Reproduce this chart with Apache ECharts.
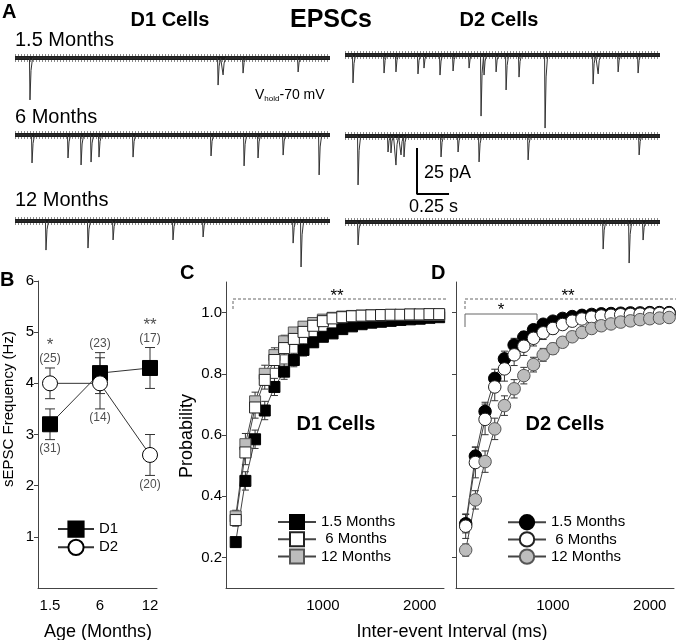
<!DOCTYPE html>
<html><head><meta charset="utf-8">
<script src="https://cdn.jsdelivr.net/npm/echarts@6/dist/echarts.min.js"></script>
<style>html,body{margin:0;padding:0;background:#fff}#c{width:676px;height:640px}</style>
</head><body><div id="c"></div>
<script>
const FONT = '"Liberation Sans", Arial, Helvetica, sans-serif';

// ---------- Panel A: sEPSC traces. Each event: [time (s), peak amplitude (pA)]
const traceDuration = 2.46;
const evD1_1p5 = [[0.117,-22.8],[1.586,-14.7],[1.625,-9.2],[1.781,-8.2],[2.211,-7.6]];
const evD2_1p5 = [[0.0625,-15.2],[0.305,-9.8],[0.398,-9.2],[0.570,-10.3],[0.617,-7.1],[0.742,-10.9],[0.844,-8.7],[0.969,-7.1],[1.0625,-33.2],[1.086,-10.9],[1.180,-9.2],[1.258,-19.0],[1.359,-12.0],[1.5625,-39.7],[1.9375,-15.8],[1.977,-10.3],[2.133,-9.2],[2.289,-9.8]];
const evD1_6 = [[0.133,-15.2],[0.414,-12.5],[0.516,-16.3],[0.594,-14.7],[0.656,-12.0],[0.922,-12.0],[1.531,-11.4],[1.789,-16.8],[1.898,-12.5],[2.094,-10.9],[2.375,-21.7]];
const evD2_6 = [[0.102,-26.6],[0.336,-8.7],[0.359,-9.2],[0.398,-15.8],[0.4375,-10.3],[0.461,-11.4],[0.75,-11.4],[0.883,-8.7],[1.047,-14.1],[1.430,-13.0],[2.297,-10.3]];
const evD1_12 = [[0.242,-15.8],[0.570,-14.7],[0.766,-10.3],[1.234,-10.3],[1.469,-8.7],[2.172,-12.0],[2.234,-25.0]];
const evD2_12 = [[0.102,-12.5],[2.016,-14.7],[2.219,-22.3],[2.328,-9.8]];
const scaleBarTime = 0.25;   // s
const scaleBarAmp = 25;      // pA

// ---------- Panel B
const ageLabels = ['1.5','6','12'];
const ageIdx = [1,2,3];
const freqD1 = [3.2,4.2,4.3];
const semD1 = [0.3,0.4,0.4];
const freqD2 = [4.0,4.0,2.6];
const semD2 = [0.3,0.5,0.4];
const nD1 = [31,23,17];
const nD2 = [25,14,20];
const sigB = ['*','','**'];

// ---------- Panels C, D: cumulative probability of inter-event interval
const intervals = [100,200,300,400,500,600,700,800,900,1000,1100,1200,1300,1400,1500,1600,1700,1800,1900,2000,2100,2200];
const cD1_1p5 = [0.25,0.45,0.586,0.68,0.757,0.807,0.845,0.878,0.903,0.921,0.932,0.946,0.955,0.962,0.967,0.970,0.973,0.976,0.978,0.980,0.983,0.985];
const cD1_6   = [0.322,0.543,0.69,0.78,0.845,0.884,0.914,0.937,0.957,0.972,0.981,0.985,0.988,0.990,0.991,0.992,0.993,0.993,0.994,0.994,0.995,0.995];
const cD1_12  = [0.334,0.57,0.71,0.80,0.861,0.906,0.935,0.954,0.966,0.977,0.983,0.987,0.989,0.990,0.991,0.991,0.992,0.992,0.993,0.993,0.993,0.993];
const eD1_1p5 = [0.015,0.03,0.03,0.03,0.028,0.025,0.022,0.02,0.016,0.013,0.011,0.009,0.008,0.007,0.006,0.005,0.005,0.004,0.004,0.004,0.003,0.003];
const eD1_6   = [0.02,0.04,0.035,0.03,0.027,0.022,0.018,0.015,0.012,0.01,0.008,0.006,0.005,0.004,0.004,0.003,0.003,0.003,0.002,0.002,0.002,0.002];
const eD1_12  = [0.02,0.035,0.03,0.028,0.024,0.02,0.016,0.013,0.01,0.008,0.006,0.005,0.004,0.004,0.003,0.003,0.003,0.002,0.002,0.002,0.002,0.002];
const dD2_1p5 = [0.31,0.531,0.677,0.785,0.849,0.894,0.92,0.944,0.962,0.972,0.981,0.987,0.991,0.994,0.996,0.997,0.998,0.999,0.999,1.0,1.0,1.0];
const dD2_6   = [0.302,0.51,0.651,0.757,0.816,0.862,0.89,0.916,0.934,0.948,0.961,0.972,0.979,0.985,0.989,0.991,0.993,0.994,0.995,0.996,0.997,0.997];
const dD2_12  = [0.224,0.388,0.513,0.62,0.696,0.751,0.794,0.83,0.862,0.882,0.903,0.921,0.935,0.948,0.957,0.963,0.969,0.973,0.977,0.980,0.982,0.984];
const eD2_1p5 = [0.03,0.03,0.03,0.03,0.025,0.022,0.018,0.015,0.012,0.01,0.008,0.006,0.005,0.004,0.003,0.003,0.002,0.002,0.002,0.002,0.002,0.002];
const eD2_6   = [0.04,0.05,0.05,0.045,0.04,0.035,0.03,0.025,0.022,0.018,0.015,0.012,0.01,0.008,0.007,0.006,0.005,0.004,0.004,0.003,0.003,0.003];
const eD2_12  = [0.02,0.03,0.035,0.035,0.032,0.03,0.027,0.024,0.021,0.018,0.016,0.014,0.012,0.011,0.01,0.009,0.008,0.007,0.006,0.006,0.005,0.005];

// ---------- helpers
const AX = '#444';
const GRAY = '#bdbdbd';
function traceData(events){
  const pts = [[0,0]];
  events.forEach(([t,a]) => { pts.push([t-0.004,0],[t,a],[t+0.008,a*0.3],[t+0.02,0]); });
  pts.push([traceDuration,0]);
  return pts;
}
function errRender(capHalf){
  return function(params, api){
    const x = api.value(0), y = api.value(1), e = api.value(2);
    const t = api.coord([x, y+e]), b = api.coord([x, y-e]);
    const st = {stroke:'#333', lineWidth:1};
    return {type:'group', children:[
      {type:'line', shape:{x1:t[0],y1:t[1],x2:b[0],y2:b[1]}, style:st},
      {type:'line', shape:{x1:t[0]-capHalf,y1:t[1],x2:t[0]+capHalf,y2:t[1]}, style:st},
      {type:'line', shape:{x1:b[0]-capHalf,y1:b[1],x2:b[0]+capHalf,y2:b[1]}, style:st}
    ]};
  };
}
function zip(xs, ys, es){ return xs.map((x,i)=> es ? [x, ys[i], es[i]] : [x, ys[i]]); }

const grids = [], xAxes = [], yAxes = [], series = [];
// Panel A trace grids
const traceLayout = [
  {ev:evD1_1p5, left:15,  base:58},
  {ev:evD2_1p5, left:345, base:55},
  {ev:evD1_6,   left:15,  base:135},
  {ev:evD2_6,   left:345, base:136},
  {ev:evD1_12,  left:15,  base:221},
  {ev:evD2_12,  left:345, base:222}
];
traceLayout.forEach((tr, i) => {
  grids.push({left:tr.left, top:tr.base-9.2, width:315, height:101.2});
  xAxes.push({type:'value', gridIndex:i, min:0, max:traceDuration, show:false});
  yAxes.push({type:'value', gridIndex:i, min:-50, max:5, show:false});
  series.push({type:'line', xAxisIndex:i, yAxisIndex:i, data:[[0,0],[traceDuration,0]], symbol:'none', silent:true,
    lineStyle:{color:'#8a8a8a', width:8, type:[1,2]}});
  series.push({type:'line', xAxisIndex:i, yAxisIndex:i, data:[[0,0],[traceDuration,0]], symbol:'none', silent:true,
    lineStyle:{color:'#1c1c1c', width:4}});
  series.push({type:'line', xAxisIndex:i, yAxisIndex:i, data:traceData(tr.ev), symbol:'none', silent:true,
    lineStyle:{color:'#333', width:1}});
});
// scale bar in the D2 6-month trace coordinates
const sb0 = 0.5625, sbTop = -6.5;
series.push({type:'line', xAxisIndex:3, yAxisIndex:3, symbol:'none', silent:true,
  data:[[sb0, sbTop],[sb0, sbTop-scaleBarAmp],[sb0+scaleBarTime, sbTop-scaleBarAmp]],
  lineStyle:{color:'#000', width:2}});

// Panel B grid (index 6)
const lblStyle = {fontFamily:FONT, fontSize:15, color:'#000'};
grids.push({left:38, top:281, width:119, height:307});
xAxes.push({type:'value', gridIndex:6, min:0.76, max:3.14,
  axisLine:{lineStyle:{color:AX}}, axisTick:{show:false}, splitLine:{show:false},
  axisLabel:{customValues:ageIdx, formatter:v=>ageLabels[ageIdx.indexOf(v)], margin:10, ...lblStyle}});
yAxes.push({type:'value', gridIndex:6, min:0, max:6, interval:1,
  axisLine:{show:true, lineStyle:{color:AX}}, splitLine:{show:false},
  axisTick:{show:true, length:4, customValues:[1,2,3,4,5,6], lineStyle:{color:AX}},
  axisLabel:{customValues:[1,2,3,4,5,6], margin:4, ...lblStyle}});
series.push({type:'custom', xAxisIndex:6, yAxisIndex:6, renderItem:errRender(5), data:zip(ageIdx,freqD1,semD1), encode:{x:0,y:1}, silent:true, z:1});
series.push({type:'custom', xAxisIndex:6, yAxisIndex:6, renderItem:errRender(5), data:zip(ageIdx,freqD2,semD2), encode:{x:0,y:1}, silent:true, z:1});
series.push({name:'D1', type:'line', xAxisIndex:6, yAxisIndex:6, data:zip(ageIdx,freqD1), symbol:'rect', symbolSize:15,
  itemStyle:{color:'#000', borderColor:'#000', borderWidth:1}, lineStyle:{color:'#333', width:1}});
series.push({name:'D2', type:'line', xAxisIndex:6, yAxisIndex:6, data:zip(ageIdx,freqD2), symbol:'circle', symbolSize:15,
  itemStyle:{color:'#fff', borderColor:'#000', borderWidth:1}, lineStyle:{color:'#333', width:1}});
// n labels and significance
function nLabelData(freq, sem, ns, pos){
  return ageIdx.map((x,i)=>{
    const up = pos[i]==='top';
    const txt = (up && sigB[i] ? '{s|'+sigB[i]+'}\n' : '') + '{n|(' + ns[i] + ')}';
    return {value:[x, up ? freq[i]+sem[i] : freq[i]-sem[i]], label:{position:pos[i], formatter:txt}};
  });
}
const nRich = {s:{fontFamily:FONT, fontSize:17, lineHeight:13, color:'#222'}, n:{fontFamily:FONT, fontSize:12, lineHeight:14, color:'#222'}};
series.push({type:'scatter', xAxisIndex:6, yAxisIndex:6, symbolSize:0, silent:true,
  data:nLabelData(freqD1, semD1, nD1, ['bottom','top','top']),
  label:{show:true, distance:2, rich:nRich}});
series.push({type:'scatter', xAxisIndex:6, yAxisIndex:6, symbolSize:0, silent:true,
  data:nLabelData(freqD2, semD2, nD2, ['top','bottom','bottom']),
  label:{show:true, distance:2, rich:nRich}});

// Panels C (7) and D (8)
const probTicks = [0.2,0.4,0.6,0.8,1.0];
[[226,7,true],[456,8,false]].forEach(([left, gi, showLbl]) => {
  grids.push({left:left, top:282, width:218, height:306});
  xAxes.push({type:'value', gridIndex:gi, min:0, max:2250,
    axisLine:{lineStyle:{color:AX}}, axisTick:{show:false}, splitLine:{show:false},
    axisLabel:{customValues:[1000,2000], margin:10, formatter:v=>String(v), ...lblStyle}});
  yAxes.push({type:'value', gridIndex:gi, min:0.1, max:1.1,
    axisLine:{show:true, lineStyle:{color:AX}}, splitLine:{show:false},
    axisTick:{show:true, length:4, customValues:probTicks, lineStyle:{color:AX}},
    axisLabel:{show:showLbl, customValues:probTicks, margin:4, formatter:v=>v.toFixed(1), ...lblStyle}});
});
function cdfSeries(name, gi, ys, es, symbol, size, fill, border){
  series.push({type:'custom', xAxisIndex:gi, yAxisIndex:gi, renderItem:errRender(3.5), data:zip(intervals, ys, es), encode:{x:0,y:1}, silent:true});
  series.push({name:name, type:'line', xAxisIndex:gi, yAxisIndex:gi, data:zip(intervals, ys), symbol:symbol, symbolSize:size,
    itemStyle:{color:fill, borderColor:border, borderWidth:1}, lineStyle:{color:'#444', width:1}});
}
cdfSeries('C|1.5 Months', 7, cD1_1p5, eD1_1p5, 'rect', 11, '#000', '#000');
cdfSeries('C|12 Months', 7, cD1_12, eD1_12, 'rect', 11, GRAY, '#555');
cdfSeries('C| 6 Months', 7, cD1_6, eD1_6, 'rect', 11, '#fff', '#222');
cdfSeries('D|1.5 Months', 8, dD2_1p5, eD2_1p5, 'circle', 12.5, '#000', '#000');
cdfSeries('D| 6 Months', 8, dD2_6, eD2_6, 'circle', 12.5, '#fff', '#222');
cdfSeries('D|12 Months', 8, dD2_12, eD2_12, 'circle', 12.5, GRAY, '#555');

const legTxt = {fontFamily:FONT, fontSize:15, color:'#000'};
const legends = [
  {data:['D1','D2'], left:57, top:520.5, itemWidth:36, itemHeight:19, itemGap:1},
  {data:['C|1.5 Months','C| 6 Months','C|12 Months'], left:277, top:514, itemWidth:38, itemHeight:17.5, itemGap:1.3},
  {data:['D|1.5 Months','D| 6 Months','D|12 Months'], left:507, top:514, itemWidth:38, itemHeight:18, itemGap:0.8}
].map(l => Object.assign({orient:'vertical', padding:0, selectedMode:false, textStyle:legTxt,
  formatter:n => n.indexOf('|')>=0 ? n.split('|')[1] : n}, l));

// ---------- texts and brackets
function txt(text, x, y, size, opts){
  opts = opts || {};
  return {type:'text', x:x, y:y, rotation:opts.rot||0, silent:true,
    style:{text:text, font:(opts.bold?'bold ':'')+size+'px '+FONT, fill:'#000',
      align:opts.align||'center', verticalAlign:'middle'}};
}
const gLine = (pts, dash) => ({type:'polyline', silent:true, shape:{points:pts},
  style:{stroke:'#666', lineWidth:1, fill:null, lineDash:dash||null}});
const graphics = [
  txt('A', 2, 12, 20, {bold:true, align:'left'}),
  txt('D1 Cells', 170, 20, 20, {bold:true}),
  txt('EPSCs', 331, 20, 25, {bold:true}),
  txt('D2 Cells', 499, 20, 20, {bold:true}),
  txt('1.5 Months', 15, 40, 20, {align:'left'}),
  txt('6 Months', 15, 117, 20, {align:'left'}),
  txt('12 Months', 15, 200, 20, {align:'left'}),
  {type:'text', x:255, y:95, silent:true, style:{text:'{v|V}{s|hold}{v|-70 mV}', align:'left', verticalAlign:'middle',
    rich:{v:{font:'14px '+FONT, fill:'#000'}, s:{font:'8px '+FONT, fill:'#000', padding:[7,0,0,0]}}}},
  txt('25 pA', 424, 173, 18, {align:'left'}),
  txt('0.25 s', 409, 207, 18, {align:'left'}),
  txt('B', 0, 280, 20, {bold:true, align:'left'}),
  txt('C', 180, 273, 20, {bold:true, align:'left'}),
  txt('D', 431, 273, 20, {bold:true, align:'left'}),
  txt('sEPSC Frequency (Hz)', 9, 409, 15, {rot:Math.PI/2}),
  txt('Age (Months)', 98, 632, 18),
  txt('Probability', 187, 436, 18, {rot:Math.PI/2}),
  txt('Inter-event Interval (ms)', 452, 632, 18),
  txt('D1 Cells', 336, 424, 20, {bold:true}),
  txt('D2 Cells', 565, 424, 20, {bold:true}),
  gLine([[233,309],[233,299],[446,299]], [3,2]),
  txt('**', 337, 296, 17),
  gLine([[465,309],[465,299],[676,299]], [3,2]),
  txt('**', 568, 296, 17),
  gLine([[465,327],[465,314],[537,314],[537,320]]),
  txt('*', 501, 310, 17)
];

const chart = echarts.init(document.getElementById('c'), null, {renderer:'canvas', width:676, height:640});
chart.setOption({
  animation:false,
  backgroundColor:'#fff',
  textStyle:{fontFamily:FONT},
  grid:grids, xAxis:xAxes, yAxis:yAxes, series:series,
  legend:legends,
  graphic:graphics
});
</script></body></html>
